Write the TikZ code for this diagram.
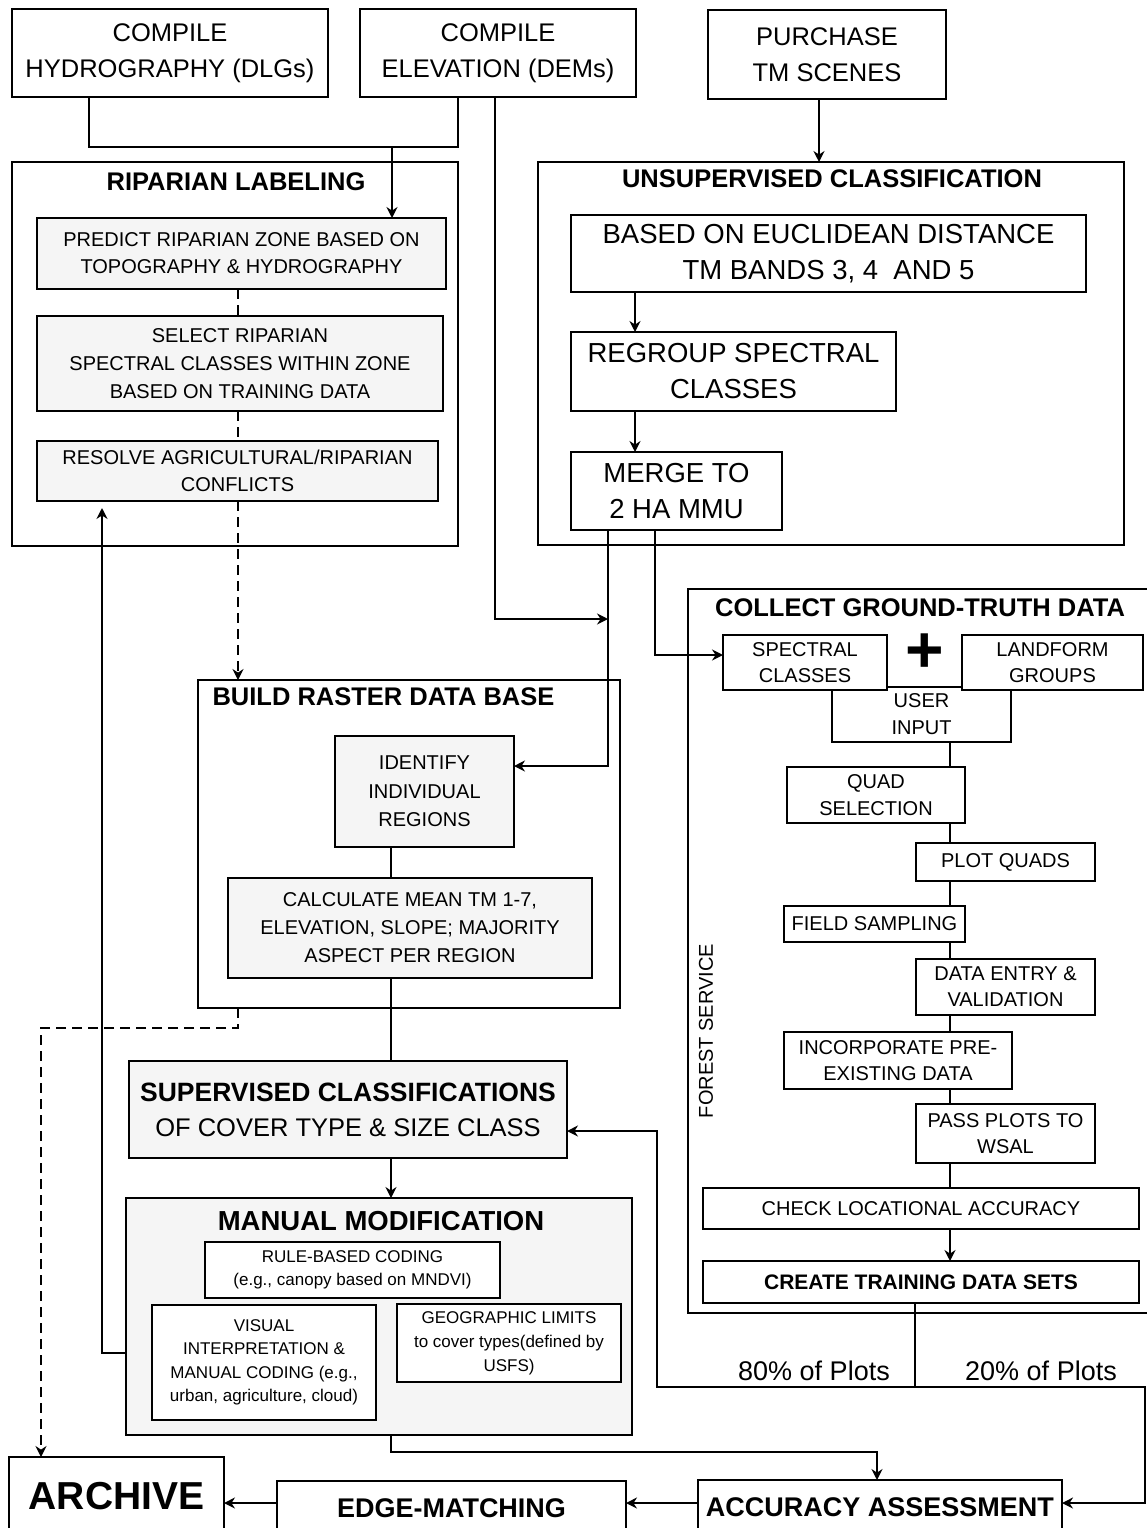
\documentclass[tikz,border=0pt]{standalone}
\usepackage{fontspec}
\setmainfont{Liberation Sans}
\usepackage{tikz}
\usetikzlibrary{arrows.meta}
\newcommand{\fsz}[2]{\fontsize{#1}{#2}\selectfont}

\begin{document}
\begin{tikzpicture}[x=1pt, y=-1pt, line width=1.6pt, >={Stealth[length=11pt,width=11pt]}]

\tikzstyle{every node} = [inner sep=0pt, outer sep=0pt, align=center]
\tikzstyle{box} = [draw, fill=white]
\tikzstyle{shd} = [draw, fill=gray!8]
\tikzstyle{grp} = [draw]
\tikzstyle{ttl} = [font=\bfseries\fsz{25.5}{30}]
\tikzstyle{dsh} = [dash pattern=on 10pt off 6pt]

\fill[white] (0,0) rectangle (1147,1528);
\useasboundingbox (0,0) rectangle (1147,1528);
\clip (0,0) rectangle (1147,1528);

\node[box, minimum width=316, minimum height=88, font=\fsz{25.5}{36}] (hyd) at (170,53) {COMPILE\\HYDROGRAPHY (DLGs)};
\node[box, minimum width=276, minimum height=88, font=\fsz{25.5}{36}] (ele) at (498,53) {COMPILE\\ELEVATION (DEMs)};
\node[box, minimum width=238, minimum height=89, font=\fsz{25.5}{36}] (pur) at (827,54.5) {PURCHASE\\TM SCENES};

\node[grp, minimum width=446, minimum height=384] (rip) at (235,354) {};
\node[ttl] (ript) at (236,182) {RIPARIAN LABELING};
\node[shd, minimum width=409, minimum height=71, font=\fsz{20}{27}] (pre) at (241.5,253.5) {PREDICT RIPARIAN ZONE BASED ON\\TOPOGRAPHY \& HYDROGRAPHY};
\node[shd, minimum width=406, minimum height=95, font=\fsz{20}{28}] (sel) at (240,363.5) {SELECT RIPARIAN\\SPECTRAL CLASSES WITHIN ZONE\\BASED ON TRAINING DATA};
\node[shd, minimum width=401, minimum height=60, font=\fsz{20}{27}] (res) at (237.5,471) {RESOLVE AGRICULTURAL/RIPARIAN\\CONFLICTS};

\node[grp, minimum width=586, minimum height=383] (uns) at (831,353.5) {};
\node[ttl] (unst) at (832,179) {UNSUPERVISED CLASSIFICATION};
\node[box, minimum width=515, minimum height=77, font=\fsz{27.5}{36}] (euc) at (828.5,253.5) {BASED ON EUCLIDEAN DISTANCE\\TM BANDS 3, 4~~AND 5};
\node[box, minimum width=325, minimum height=79, font=\fsz{27.5}{36}] (reg) at (733.5,371.5) {REGROUP SPECTRAL\\CLASSES};
\node[box, minimum width=211, minimum height=78, font=\fsz{27.5}{36}] (mer) at (676.5,491) {MERGE TO\\2 HA MMU};

\node[grp, minimum width=422, minimum height=328] (bld) at (409,844) {};
\node[ttl] (bldt) at (383.5,697) {BUILD RASTER DATA BASE};
\node[shd, minimum width=179, minimum height=111, font=\fsz{20}{28.5}] (idn) at (424.5,791.5) {IDENTIFY\\INDIVIDUAL\\REGIONS};
\node[shd, minimum width=364, minimum height=100, font=\fsz{20}{28}] (cal) at (410,928) {CALCULATE MEAN TM 1-7,\\ELEVATION, SLOPE; MAJORITY\\ASPECT PER REGION};

\node[shd, minimum width=438, minimum height=97, font=\fsz{25.5}{35}] (sup) at (348,1109.5) {{\bfseries\fsz{26.5}{35}SUPERVISED CLASSIFICATIONS}\\OF COVER TYPE \& SIZE CLASS};

\node[shd, minimum width=506, minimum height=237] (man) at (379,1316.5) {};
\node[font=\bfseries\fsz{27.5}{30}] (mant) at (381,1221) {MANUAL MODIFICATION};
\node[box, minimum width=295, minimum height=56, font=\fsz{17}{23}] (rul) at (352.5,1270) {RULE-BASED CODING\\(e.g., canopy based on MNDVI)};
\node[box, minimum width=224, minimum height=115, font=\fsz{17}{23.5}] (vis) at (264,1362.5) {VISUAL\\INTERPRETATION \&\\MANUAL CODING (e.g.,\\urban, agriculture, cloud)};
\node[box, minimum width=224, minimum height=78, font=\fsz{17}{24}] (geo) at (509,1343) {GEOGRAPHIC LIMITS\\to cover types(defined by\\USFS)};

\node[box, minimum width=215, minimum height=78, font=\bfseries\fsz{39}{44}] (arc) at (116.5,1496) {ARCHIVE};
\node[box, minimum width=349, minimum height=54, font=\bfseries\fsz{27}{30}] (edg) at (451.5,1508) {EDGE-MATCHING};
\node[box, minimum width=364, minimum height=55, font=\bfseries\fsz{27}{30}] (acc) at (880,1507.5) {ACCURACY ASSESSMENT};

\node[grp, minimum width=460, minimum height=724] (col) at (918,951) {};
\node[ttl] (colt) at (920,608) {COLLECT GROUND-TRUTH DATA};
\node[rotate=90, font=\fsz{20}{24}] (fs) at (706,1031) {FOREST SERVICE};
\node[box, minimum width=179, minimum height=55, font=\fsz{20}{27}] (usr) at (921.5,714.5) {USER\\INPUT};
\node[box, minimum width=164, minimum height=55, font=\fsz{20}{26}] (spc) at (805,662.5) {SPECTRAL\\CLASSES};
\node[box, minimum width=181, minimum height=55, font=\fsz{20}{26}] (lnd) at (1052.5,662.5) {LANDFORM\\GROUPS};
\node[font=\bfseries\fsz{66}{66}] (pls) at (925,653) {+};
\node[box, minimum width=178, minimum height=56, font=\fsz{20}{27}] (qua) at (876,795) {QUAD\\SELECTION};
\node[box, minimum width=179, minimum height=38, font=\fsz{20}{26}] (plq) at (1005.5,862) {PLOT QUADS};
\node[box, minimum width=181, minimum height=36, font=\fsz{20}{26}] (fld) at (874.5,924) {FIELD SAMPLING};
\node[box, minimum width=179, minimum height=56, font=\fsz{20}{26}] (dat) at (1005.5,987) {DATA ENTRY \&\\VALIDATION};
\node[box, minimum width=228, minimum height=57, font=\fsz{20}{26}] (inc) at (898,1060.5) {INCORPORATE PRE-\\EXISTING DATA};
\node[box, minimum width=179, minimum height=59, font=\fsz{20}{26}] (pas) at (1005.5,1133.5) {PASS PLOTS TO\\WSAL};
\node[box, minimum width=436, minimum height=41, font=\fsz{20}{26}] (chk) at (921,1208.5) {CHECK LOCATIONAL ACCURACY};
\node[box, minimum width=436, minimum height=42, font=\bfseries\fsz{21}{26}] (cre) at (921,1282) {CREATE TRAINING DATA SETS};

\node[font=\fsz{27}{30}] (l80) at (814,1371) {80\% of Plots};
\node[font=\fsz{27}{30}] (l20) at (1041,1371) {20\% of Plots};

\coordinate (c0) at (238,0);
\coordinate (c1) at (391,0);
\coordinate (c2) at (950,0);
\coordinate (c3) at (635,0);
\coordinate (j0) at (89,147);
\coordinate (j1) at (458,147);
\coordinate (j2) at (392,147);
\coordinate (j3) at (495,619);
\coordinate (j4) at (608,619);
\coordinate (j5) at (608,766);
\coordinate (j6) at (655,655);
\coordinate (j7) at (819,0);
\coordinate (j8) at (915,1387);
\coordinate (j9) at (657,1131);
\coordinate (j10) at (1145,1503);
\coordinate (j11) at (877,1452);
\coordinate (j12) at (238,1028);
\coordinate (j13) at (41,0);
\coordinate (j14) at (102,1353);
\coordinate (j15) at (0,1503);

\draw (hyd.south -| j0) |- (j1) -- (ele.south -| j1);
\draw[->] (j2) -- (pre.north -| j2);
\draw[->] (ele.south -| j3) |- (j4);
\draw[->] (pur.south -| j7) -- (uns.north -| j7);
\draw[->] (euc.south -| c3) -- (reg.north -| c3);
\draw[->] (reg.south -| c3) -- (mer.north -| c3);
\draw[->] (mer.south -| j5) |- (idn.east |- j5);
\draw[->] (mer.south -| j6) |- (spc.west |- j6);

\draw[dsh] (pre.south -| c0) -- (sel.north -| c0);
\draw[dsh] (sel.south -| c0) -- (res.north -| c0);
\draw[dsh, ->] (res.south -| c0) -- (bld.north -| c0);
\draw[dsh, ->] (bld.south -| j12) -- (j12) -| (arc.north -| j13);

\draw (idn.south -| c1) -- (cal.north -| c1);
\draw (cal.south -| c1) -- (sup.north -| c1);
\draw[->] (sup.south -| c1) -- (man.north -| c1);
\draw[->, shorten >=7pt] (man.west |- j14) -| (res.south -| j14);
\draw[->] (man.south -| c1) |- (j11) -- (acc.north -| j11);

\draw (usr.south -| c2) -- (qua.north -| c2);
\draw (qua.south -| c2) -- (plq.north -| c2);
\draw (plq.south -| c2) -- (fld.north -| c2);
\draw (fld.south -| c2) -- (dat.north -| c2);
\draw (dat.south -| c2) -- (inc.north -| c2);
\draw (inc.south -| c2) -- (pas.north -| c2);
\draw (pas.south -| c2) -- (chk.north -| c2);
\draw[->] (chk.south -| c2) -- (cre.north -| c2);

\draw (cre.south -| j8) -- (j8);
\draw[->] (j8) -| (j9) -- (sup.east |- j9);
\draw[->] (j8) -| (j10) -- (acc.east |- j10);
\draw[->] (acc.west |- j15) -- (edg.east |- j15);
\draw[->] (edg.west |- j15) -- (arc.east |- j15);

\end{tikzpicture}
\end{document}
